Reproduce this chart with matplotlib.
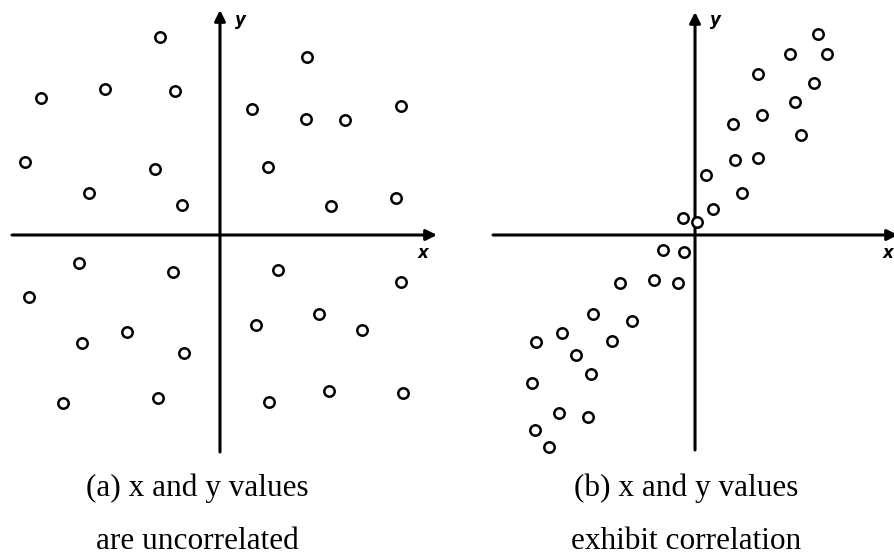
import numpy as np
import matplotlib.pyplot as plt

# (a) uncorrelated points, units relative to the origin
xa = [-6.0, 8.7, -17.9, -11.5, -4.5, 3.2, 8.6, 12.5, 18.1, -19.5, -6.5, 4.8,
      -13.1, -3.8, 11.1, 17.6, -14.1, -4.7, -19.1, 5.8, 18.1, 9.9, 3.6, 14.2,
      -9.3, -13.8, -3.6, -15.7, -6.2, 4.9, 10.9, 18.3]
ya = [19.8, 17.8, 13.7, 14.6, 14.4, 12.6, 11.6, 11.5, 12.9, 7.3, 6.6, 6.8,
      4.2, 3.0, 2.9, 3.7, -2.8, -3.7, -6.2, -3.5, -4.7, -7.9, -9.0, -9.5,
      -9.7, -10.8, -11.8, -16.8, -16.3, -16.7, -15.6, -15.8]

# (b) correlated points
xb = [12.3, 9.5, 13.2, 6.3, 11.9, 10.0, 6.7, 3.8, 10.6, 4.0, 6.3, 1.1, 4.7,
      1.8, -1.2, 0.2, -3.2, -1.1, -7.5, -4.1, -1.7, -10.2, -6.3, -13.3, -15.9,
      -8.3, -11.9, -10.4, -16.3, -13.6, -10.7, -16.0, -14.6]
yb = [20.1, 18.1, 18.1, 16.1, 15.2, 13.3, 12.0, 11.1, 10.0, 7.5, 7.7, 6.0, 4.2,
      2.6, 1.7, 1.3, -1.5, -1.7, -4.8, -4.5, -4.8, -7.9, -8.6, -9.8, -10.7,
      -10.6, -12.0, -13.9, -14.8, -17.8, -18.2, -19.5, -21.2]

captions = ["(a) x and y values\nare uncorrelated",
            "(b) x and y values\nexhibit correlation"]


def draw_axes(ax, xmin, xmax, ymin, ymax):
    arrow = dict(arrowstyle='-|>', color='black', lw=2.2, mutation_scale=16,
                 shrinkA=0, shrinkB=0)
    ax.annotate('', xy=(xmax, 0), xytext=(xmin, 0), arrowprops=arrow,
                annotation_clip=False)
    ax.annotate('', xy=(0, ymax), xytext=(0, ymin), arrowprops=arrow,
                annotation_clip=False)
    ax.text(2.0, 21.5, 'y', fontsize=12, fontstyle='italic', fontweight='bold',
            ha='center', va='center')


fig = plt.figure(figsize=(8.95, 5.57), dpi=100)
ax1 = fig.add_axes([0.0, 0.1562, 0.4994, 0.8438])
ax2 = fig.add_axes([0.5006, 0.1562, 0.4994, 0.8438])

for ax in (ax1, ax2):
    ax.axis('off')
    ax.set_ylim(-23.5, 23.5)
ax1.set_xlim(-22.0, 22.7)
ax2.set_xlim(-24.7, 20.0)

draw_axes(ax1, -20.8, 21.7, -21.7, 22.5)
draw_axes(ax2, -20.2, 20.3, -21.5, 22.3)
ax1.text(20.3, -1.8, 'x', fontsize=12, fontstyle='italic', fontweight='bold',
         ha='center', va='center')
ax2.text(19.3, -1.8, 'x', fontsize=12, fontstyle='italic', fontweight='bold',
         ha='center', va='center')

ax1.plot(xa, ya, 'o', ms=7.5, mfc='white', mec='black', mew=1.8, zorder=3)
ax2.plot(xb, yb, 'o', ms=7.5, mfc='white', mec='black', mew=1.8, zorder=3)

for xc, cap in zip([0.2207, 0.7665], captions):
    top, bottom = cap.split('\n')
    fig.text(xc, 0.1095, top, ha='center', va='baseline',
             family='Liberation Serif', fontsize=22.5)
    fig.text(xc, 0.0135, bottom, ha='center', va='baseline',
             family='Liberation Serif', fontsize=22.5)

fig.savefig('out.png', dpi=100)
